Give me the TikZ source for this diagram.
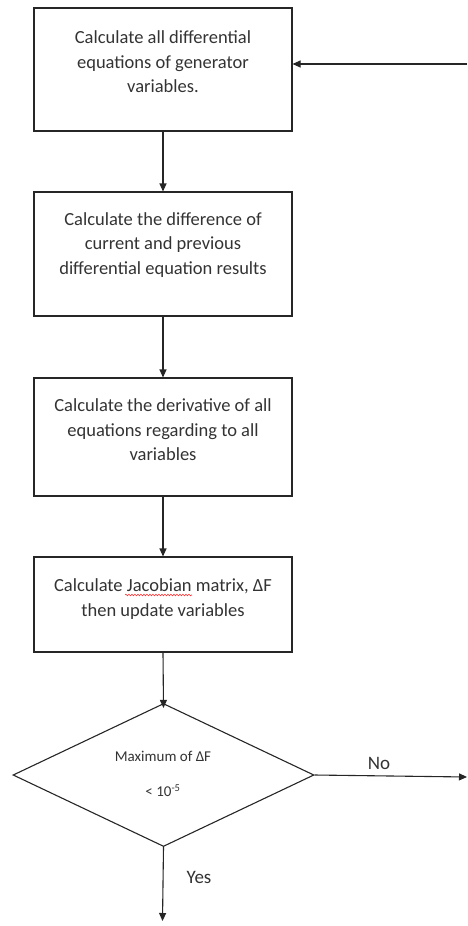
\documentclass[tikz,border=0pt]{standalone}
\usepackage{fontspec}
\setmainfont{Carlito}
\usetikzlibrary{shapes.geometric,arrows.meta,decorations.pathmorphing}
\begin{document}
\begin{tikzpicture}[x=1pt,y=-1pt,
  box/.style={draw=black!85,line width=1.1pt,minimum width=258pt,inner sep=0pt},
  txt/.style={align=center,font=\fontsize{18.5}{24.5}\selectfont,text=black!80,inner sep=0pt},
  dec/.style={draw=black!85,line width=1.1pt,diamond,minimum width=301pt,minimum height=143pt,inner sep=0pt},
  arr/.style={draw=black!85,line width=1.1pt,-{Triangle[width=7pt,length=8pt]}},
  lbl/.style={font=\fontsize{19}{21}\selectfont,text=black!80,inner sep=0pt}]
\useasboundingbox (0,0) rectangle (467,926);
\node[box,minimum height=123pt] (b1) at (163,69.5) {};
\node[txt] (t1) at (163,62) {Calculate all differential\\equations of generator\\variables.};
\node[box,minimum height=124pt] (b2) at (163,254) {};
\node[txt] (t2) at (163,245) {Calculate the difference of\\current and previous\\differential equation results};
\node[box,minimum height=118pt] (b3) at (163,437) {};
\node[txt] (t3) at (163,430) {Calculate the derivative of all\\equations regarding to all\\variables};
\node[box,minimum height=95pt] (b4) at (163,604.5) {};
\node[txt] (t4) at (163,599) {Calculate Jacobian matrix, ΔF\\then update variables};
\node[dec] (d) at (163.5,775) {};
\node[align=center,font=\fontsize{15}{17}\selectfont,text=black!80,inner sep=0pt] (dt) at (163,774) {Maximum of ΔF\\[18pt]< 10\textsuperscript{-5}};
\coordinate (fb) at (467,64);
\coordinate (no) at (467,777);
\coordinate (yes) at (162.5,921);
\draw[arr] (b1.south) -- (b2.north);
\draw[arr] (b2.south) -- (b3.north);
\draw[arr] (b3.south) -- (b4.north);
\draw[arr] (b4.south) -- ([yshift=-5pt]d.north);
\draw[arr] (fb) -- (b1.east |- fb);
\draw[arr] (d.east) -- (no);
\draw[arr] (d.south) -- (yes);
\node[lbl] (lno) at (379,763) {No};
\node[lbl] (lyes) at (199,877) {Yes};
\draw[red!80,line width=0.6pt,decorate,decoration={snake,amplitude=0.8pt,segment length=3pt}] (125,595) -- (192,595);
\end{tikzpicture}
\end{document}
